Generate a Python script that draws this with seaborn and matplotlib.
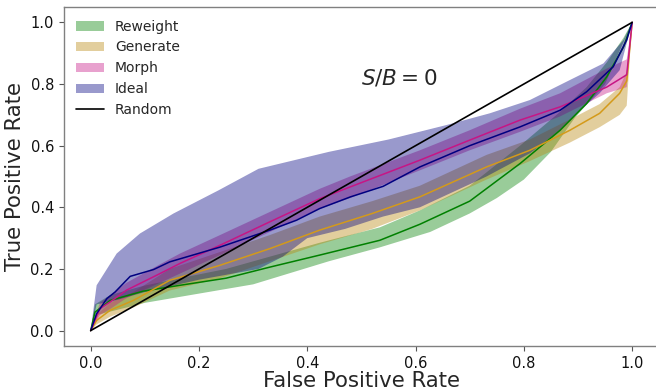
import numpy as np
import matplotlib
matplotlib.use("Agg")
import matplotlib.pyplot as plt
import seaborn as sns
from matplotlib.lines import Line2D

# ---------------- data ----------------
# Reweight (green)
rw_x = [0, 0.008, 0.036, 0.097, 0.165, 0.25, 0.331, 0.423, 0.534, 0.608, 0.70, 0.793, 0.867, 0.916, 0.953, 0.984, 1.0]
rw_y = [0, 0.06, 0.098, 0.128, 0.147, 0.17, 0.206, 0.245, 0.293, 0.345, 0.42, 0.542, 0.65, 0.737, 0.823, 0.92, 1.0]
rw_up = [0, 0.085, 0.115, 0.145, 0.17, 0.2, 0.24, 0.285, 0.335, 0.39, 0.47, 0.6, 0.71, 0.79, 0.87, 0.95, 1.0]
rw_lo_x = [0, 0.01, 0.1, 0.2, 0.3, 0.44, 0.534, 0.627, 0.70, 0.75, 0.80, 0.85, 0.894, 0.95, 1.0]
rw_lo = [0, 0.05, 0.09, 0.12, 0.15, 0.225, 0.27, 0.32, 0.38, 0.43, 0.49, 0.58, 0.69, 0.80, 1.0]

# Generate (gold)
gen_x = [0, 0.011, 0.036, 0.079, 0.146, 0.239, 0.331, 0.423, 0.52, 0.608, 0.731, 0.811, 0.885, 0.94, 0.977, 0.99, 1.0]
gen_y = [0, 0.033, 0.066, 0.098, 0.163, 0.212, 0.266, 0.326, 0.38, 0.434, 0.531, 0.585, 0.65, 0.705, 0.77, 0.81, 1.0]
gen_up = [0, 0.05, 0.09, 0.125, 0.2, 0.255, 0.31, 0.37, 0.42, 0.47, 0.57, 0.62, 0.685, 0.735, 0.79, 0.84, 1.0]
gen_lo = [0, 0.02, 0.045, 0.075, 0.13, 0.17, 0.225, 0.28, 0.33, 0.39, 0.49, 0.55, 0.61, 0.66, 0.70, 0.73, 1.0]

# Morph (pink)
mor_x = [0, 0.017, 0.036, 0.066, 0.128, 0.165, 0.239, 0.331, 0.423, 0.479, 0.608, 0.70, 0.793, 0.867, 0.953, 0.99, 1.0]
mor_y = [0, 0.071, 0.093, 0.131, 0.185, 0.218, 0.277, 0.353, 0.428, 0.466, 0.553, 0.618, 0.683, 0.726, 0.79, 0.83, 1.0]
mor_up = [0, 0.09, 0.115, 0.155, 0.215, 0.25, 0.31, 0.385, 0.46, 0.50, 0.585, 0.65, 0.72, 0.77, 0.85, 0.88, 1.0]
mor_lo = [0, 0.05, 0.07, 0.105, 0.155, 0.185, 0.245, 0.32, 0.395, 0.43, 0.52, 0.585, 0.645, 0.695, 0.77, 0.79, 1.0]

# Ideal (navy)
ide_x = [0, 0.011, 0.03, 0.045, 0.073, 0.116, 0.146, 0.239, 0.331, 0.38, 0.423, 0.48, 0.54, 0.608, 0.70, 0.793, 0.867, 0.916, 0.965, 0.99, 1.0]
ide_y = [0, 0.055, 0.104, 0.125, 0.176, 0.198, 0.223, 0.271, 0.326, 0.358, 0.396, 0.434, 0.468, 0.531, 0.60, 0.661, 0.715, 0.775, 0.856, 0.943, 1.0]
ide_up_x = [0, 0.011, 0.048, 0.091, 0.153, 0.236, 0.31, 0.44, 0.55, 0.657, 0.737, 0.811, 0.885, 0.947, 0.984, 1.0]
ide_up = [0, 0.147, 0.25, 0.315, 0.38, 0.455, 0.525, 0.58, 0.62, 0.667, 0.705, 0.748, 0.813, 0.867, 0.943, 1.0]
ide_lo_x = [0, 0.011, 0.05, 0.1, 0.2, 0.31, 0.355, 0.40, 0.47, 0.54, 0.608, 0.731, 0.811, 0.867, 0.904, 0.94, 0.977, 1.0]
ide_lo = [0, 0.085, 0.1, 0.125, 0.165, 0.2, 0.24, 0.3, 0.33, 0.37, 0.40, 0.50, 0.575, 0.65, 0.715, 0.77, 0.845, 1.0]

# Random
rand_x = [0, 1]
rand_y = [0, 1]

labels = ["Reweight", "Generate", "Morph", "Ideal", "Random"]
line_colors = ["green", "#d49a1a", "mediumvioletred", "navy", "black"]
fill_colors = ["green", "darkgoldenrod", "mediumvioletred", "navy"]

# ---------------- plot ----------------
sns.set_style("ticks")
plt.rcParams["font.family"] = ["DejaVu Sans"]

fig = plt.figure(figsize=(6.56, 3.90), dpi=100)
ax = fig.add_axes([63.6 / 656, 44 / 390, 595.6 / 656, 339 / 390])


def band(xu, yu, xl, yl, color, label):
    px = np.concatenate([np.asarray(xu), np.asarray(xl)[::-1]])
    py = np.concatenate([np.asarray(yu), np.asarray(yl)[::-1]])
    return ax.fill(px, py, color=color, alpha=0.4, lw=0, label=label)[0]


h_rw = band(rw_x, rw_up, rw_lo_x, rw_lo, fill_colors[0], labels[0])
h_gen = band(gen_x, gen_up, gen_x, gen_lo, fill_colors[1], labels[1])
h_mor = band(mor_x, mor_up, mor_x, mor_lo, fill_colors[2], labels[2])
h_ide = band(ide_up_x, ide_up, ide_lo_x, ide_lo, fill_colors[3], labels[3])

for xs, ys, c in [(rw_x, rw_y, line_colors[0]), (gen_x, gen_y, line_colors[1]),
                  (mor_x, mor_y, line_colors[2]), (ide_x, ide_y, line_colors[3])]:
    sns.lineplot(x=xs, y=ys, color=c, lw=1.1, ax=ax, sort=False, estimator=None)

sns.lineplot(x=rand_x, y=rand_y, color="black", lw=1.2, ax=ax, sort=False, estimator=None)
h_rand = Line2D([0], [0], color="black", lw=1.2)

ax.set_xlim(-0.05, 1.05)
ax.set_ylim(-0.05, 1.05)
ax.set_xticks([0, 0.2, 0.4, 0.6, 0.8, 1.0])
ax.set_yticks([0, 0.2, 0.4, 0.6, 0.8, 1.0])
ax.tick_params(labelsize=10.5, length=3.5, width=0.8, color="#555555", labelcolor="#111111")
for s in ax.spines.values():
    s.set_color("#808080")
    s.set_linewidth(1.0)

ax.set_xlabel("False Positive Rate", fontsize=15.3, labelpad=0)
ax.set_ylabel("True Positive Rate", fontsize=15.3, labelpad=4)

ax.text(0.50, 0.82, r"$S/B = 0$", fontsize=15.5, ha="left", va="center")

ax.legend([h_rw, h_gen, h_mor, h_ide, h_rand], labels, loc="upper left",
          frameon=False, fontsize=10)

fig.savefig("out.png", dpi=100)
